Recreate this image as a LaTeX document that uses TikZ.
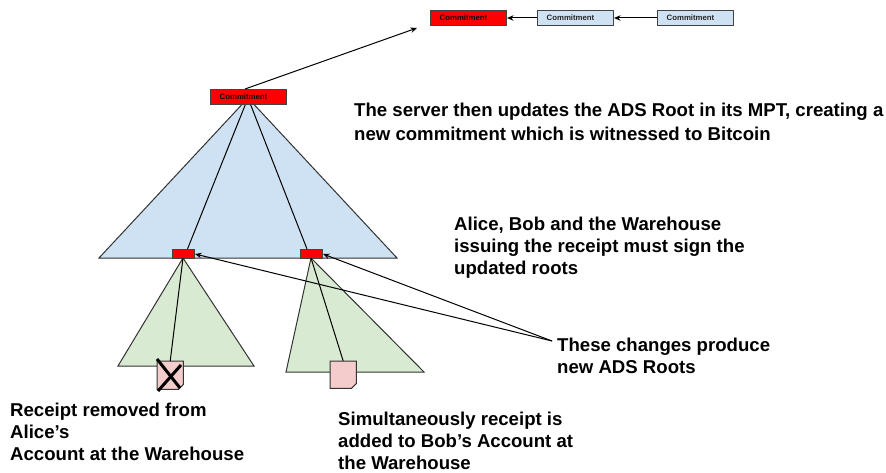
\documentclass[tikz,border=0pt]{standalone}
\usepackage{fontspec}
\setmainfont{Liberation Sans}
\usetikzlibrary{arrows.meta,calc}
\definecolor{cred}{HTML}{FF0000}
\definecolor{cblue}{HTML}{CFE2F3}
\definecolor{cgreen}{HTML}{D9EAD3}
\definecolor{cpink}{HTML}{F4CCCC}
\definecolor{cline}{HTML}{434343}
\tikzset{
  commit/.style={draw=cline,line width=1pt,minimum width=76pt,minimum height=15pt,inner sep=0pt,anchor=north west,font=\bfseries\fontsize{7.8}{9}\selectfont,text=black!85,execute at end node=\hspace{10pt}},
  redcommit/.style={commit,fill=cred,text=black!90!red},
  bluecommit/.style={commit,fill=cblue},
  smallred/.style={draw=cline,line width=1pt,fill=cred,minimum width=22pt,minimum height=9pt,inner sep=0pt,anchor=north west},
  tri/.style={draw=black!80,line width=1pt},
  conn/.style={draw=black,line width=1pt},
  arr/.style={conn,-{Stealth[length=6.5pt,width=5.5pt]}},
  label/.style={anchor=north west,inner sep=0pt,align=left,font=\bfseries\fontsize{18.6}{24}\selectfont,text=black},
  labelb/.style={label,font=\bfseries\fontsize{18.6}{22}\selectfont},
  docshape/.style={draw=black!80,line width=1pt,fill=cpink},
}
\begin{document}
\begin{tikzpicture}[x=1pt,y=-1pt]
\useasboundingbox (0,0) rectangle (886,473);
\coordinate (rootapex) at (248,98);
\coordinate (apexA) at (183,258);
\coordinate (apexB) at (311,258);
\coordinate (sink) at (417,28);
\coordinate (fan) at (552,341);
% triangles
\draw[tri,fill=cblue] (rootapex) -- (99,258) -- (397,258) -- cycle;
\draw[tri,fill=cgreen] (apexA) -- (118,366) -- (254,366) -- cycle;
\draw[tri,fill=cgreen] (apexB) -- (286,372) -- (424,372) -- cycle;
\draw[conn] (rootapex) -- (187.5,249);
\draw[conn] (rootapex) -- (307,249);
% boxes
\node[redcommit] (c1) at (430,10) {Commitment};
\node[bluecommit] (c2) at (537,10) {Commitment};
\node[bluecommit] (c3) at (657,10) {Commitment};
\node[redcommit] (root) at (210,89) {Commitment};
\node[smallred] (s1) at (172,249) {};
\node[smallred] (s2) at (300,249) {};
% documents
\node[minimum width=26pt,minimum height=28pt,inner sep=0pt,anchor=north west] (d1) at (157,361) {};
\node[minimum width=26pt,minimum height=27pt,inner sep=0pt,anchor=north west] (d2) at (330,361) {};
\draw[docshape] (d1.north west) -- (d1.north east) -- ($(d1.south east)+(0,-5)$) -- ($(d1.south east)+(-5,0)$) -- (d1.south west) -- cycle;
\draw[docshape] (d2.north west) -- (d2.north east) -- ($(d2.south east)+(0,-5)$) -- ($(d2.south east)+(-5,0)$) -- (d2.south west) -- cycle;
% connectors
\draw[arr] (c2.west) -- (c1.east);
\draw[arr] (c3.west) -- (c2.east);
\draw[arr] (245,89) -- (sink);
\draw[conn] (apexA) -- (d1.north);
\draw[conn] (apexB) -- (d2.north);
\draw[arr] (fan) -- (s1.east);
\draw[arr] (fan) -- (s2.east);
% cross
\draw[line width=3pt,black] (157,359) -- (180,388);
\draw[line width=3pt,black] (158,391) -- (181,365);
% labels
\node[label] (t1) at (354,103) {The server then updates the ADS Root in its MPT, creating a\\new commitment which is witnessed to Bitcoin};
\node[labelb] (t2) at (454,217) {Alice, Bob and the Warehouse\\issuing the receipt must sign the\\updated roots};
\node[labelb] (t3) at (557,338) {These changes produce\\new ADS Roots};
\node[labelb] (t4) at (10,403) {Receipt removed from\\Alice’s\\Account at the Warehouse};
\node[labelb] (t5) at (338,412) {Simultaneously receipt is\\added to Bob’s Account at\\the Warehouse};
\end{tikzpicture}
\end{document}
